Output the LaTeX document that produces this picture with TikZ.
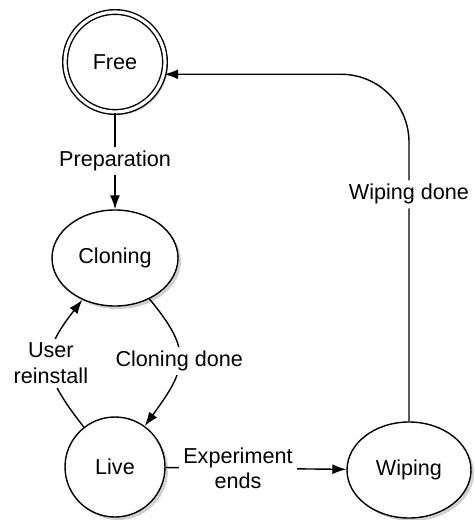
\documentclass[tikz,border=0pt]{standalone}
\usepackage{fontspec}
\setmainfont{Liberation Sans}
\usetikzlibrary{arrows, arrows.meta, shapes.geometric, shadows, positioning}

\begin{document}
\begin{tikzpicture}[x=0.5pt, y=-0.5pt, node distance=98pt,
  every node/.style={font=\fontsize{10.8}{12.8}\selectfont, align=center},
  state/.style={ellipse, draw=black, line width=0.7pt, fill=white, inner sep=0pt,
    drop shadow={opacity=0.3, fill=black!60, shadow xshift=1.5pt, shadow yshift=-1.5pt}},
  lbl/.style={fill=white, inner sep=2pt},
  flow/.style={-{Latex[length=7pt, width=5pt]}, line width=0.7pt}]
\useasboundingbox (0,0) rectangle (475,520);

\node (free) [state, circle, minimum size=50pt, double, double distance=1.6pt] at (115,62) {Free};
\node (cloning) [state, below of=free, minimum width=63pt, minimum height=48pt] {Cloning};
\node (live) [state, below of=cloning, node distance=104.5pt, minimum width=50pt, minimum height=50pt] {Live};
\node (wiping) [state, right of=live, node distance=147pt, yshift=-1.5pt, minimum width=62pt, minimum height=48pt] {Wiping};

\draw [flow] (free) -- node[lbl] {Preparation} (cloning);
\draw [flow] (cloning) to[out=-50, in=54, looseness=1.4] node[lbl] {Cloning done} (live);
\draw [flow] (live) to[out=128, in=232, looseness=1.4] node[lbl] {User\\reinstall} (cloning);
\draw [flow] (live) -- node[lbl, pos=0.4] {Experiment\\ends} (wiping);
\draw [flow, rounded corners=34pt] (wiping.north) |- node[lbl, pos=0.327] {Wiping done} (free.-14);
\end{tikzpicture}
\end{document}
